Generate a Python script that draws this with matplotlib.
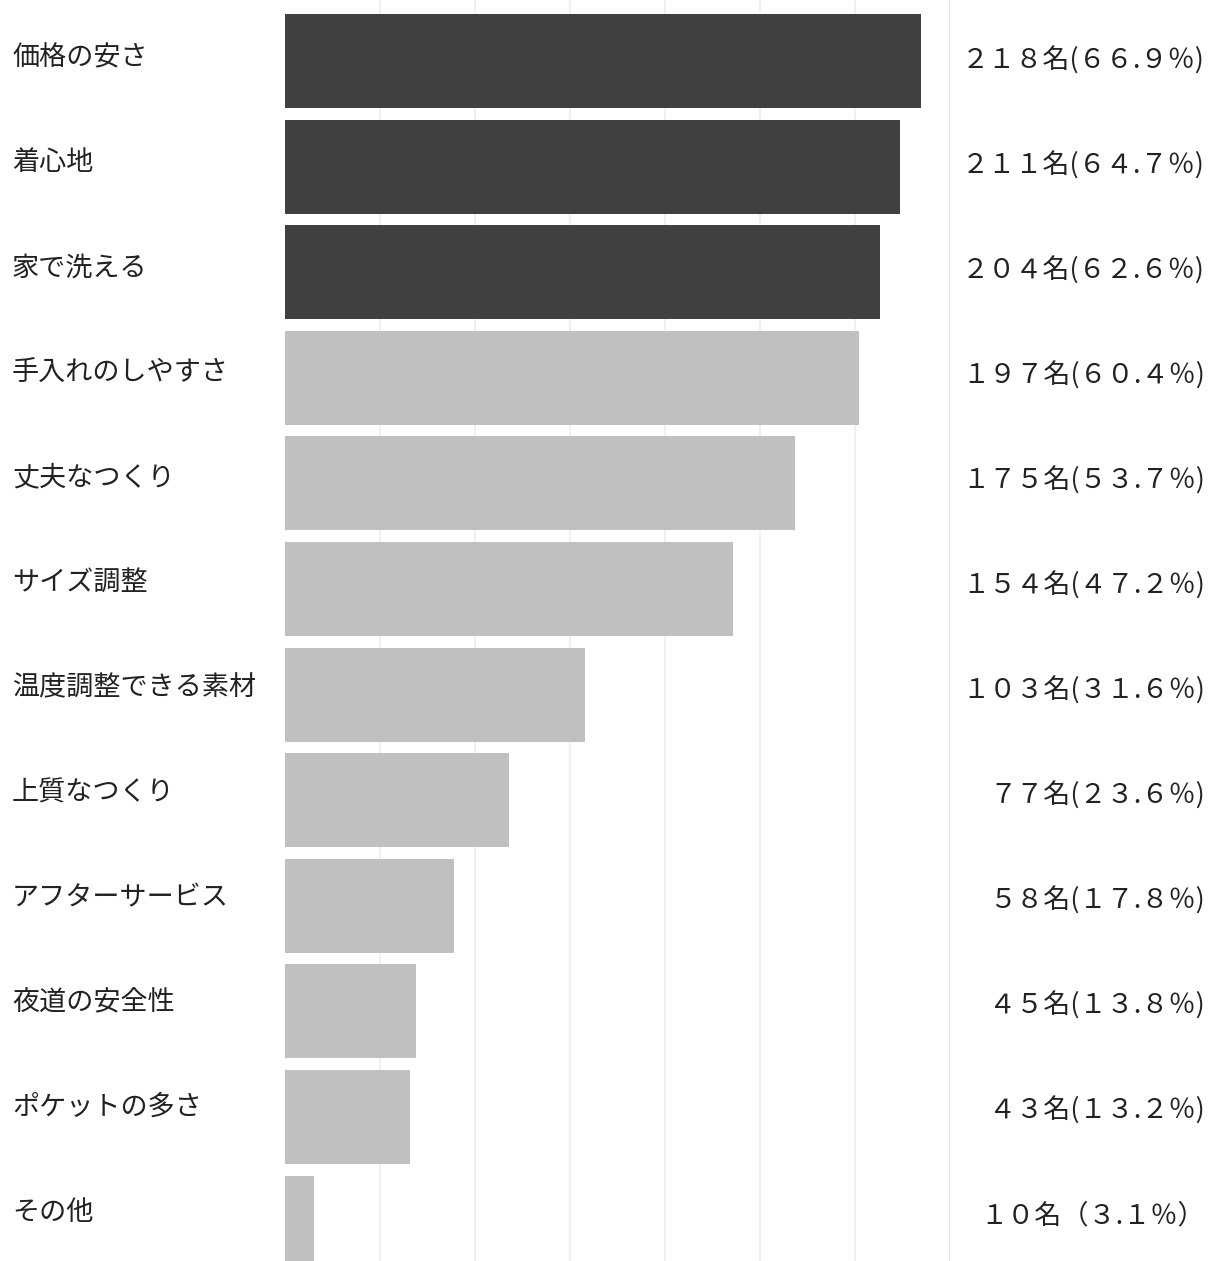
import matplotlib
matplotlib.use('Agg')
import matplotlib.pyplot as plt
import matplotlib.transforms as mtransforms

plt.rcParams['font.family'] = ['Noto Sans CJK JP', 'DejaVu Sans']

items = ['価格の安さ', '着心地', '家で洗える', '手入れのしやすさ', '丈夫なつくり', 'サイズ調整',
         '温度調整できる素材', '上質なつくり', 'アフターサービス', '夜道の安全性', 'ポケットの多さ', 'その他']
counts = [218, 211, 204, 197, 175, 154, 103, 77, 58, 45, 43, 10]
percents = [66.9, 64.7, 62.6, 60.4, 53.7, 47.2, 31.6, 23.6, 17.8, 13.8, 13.2, 3.1]
value_labels = ['２１８名(６６.９％)', '２１１名(６４.７％)', '２０４名(６２.６％)', '１９７名(６０.４％)',
                '１７５名(５３.７％)', '１５４名(４７.２％)', '１０３名(３１.６％)', '７７名(２３.６％)',
                '５８名(１７.８％)', '４５名(１３.８％)', '４３名(１３.２％)', '１０名（３.１％）']
n_top = 3

fig = plt.figure(figsize=(12.17, 12.61), dpi=100)
ax = fig.add_axes([285/1217, 0, (950-285)/1217, 1])

colors = ['#404040' if i < n_top else '#c0c0c0' for i in range(len(items))]
ypos = list(range(len(items)))

for g in range(10, 71, 10):
    ax.axvline(g, color='#e6e6e6' if g == 70 else '#efefef', linewidth=1.3, zorder=0)

ax.barh(ypos, percents, height=0.89, color=colors, zorder=2)

ax.set_xlim(0, 70)
ax.set_ylim(11.364, -0.578)
ax.axis('off')

trans = mtransforms.blended_transform_factory(fig.transFigure, ax.transData)
for i in range(len(items)):
    ax.text(12/1217, i - 0.03 - 0.006 * i, items[i], transform=trans, ha='left', va='center',
            fontsize=19.5, color='#222222')
    ax.text(1205/1217, i - 0.006 * i, value_labels[i], transform=trans, ha='right', va='center',
            fontsize=19.5, color='#222222')

fig.savefig('out.png', dpi=100, facecolor='white')
